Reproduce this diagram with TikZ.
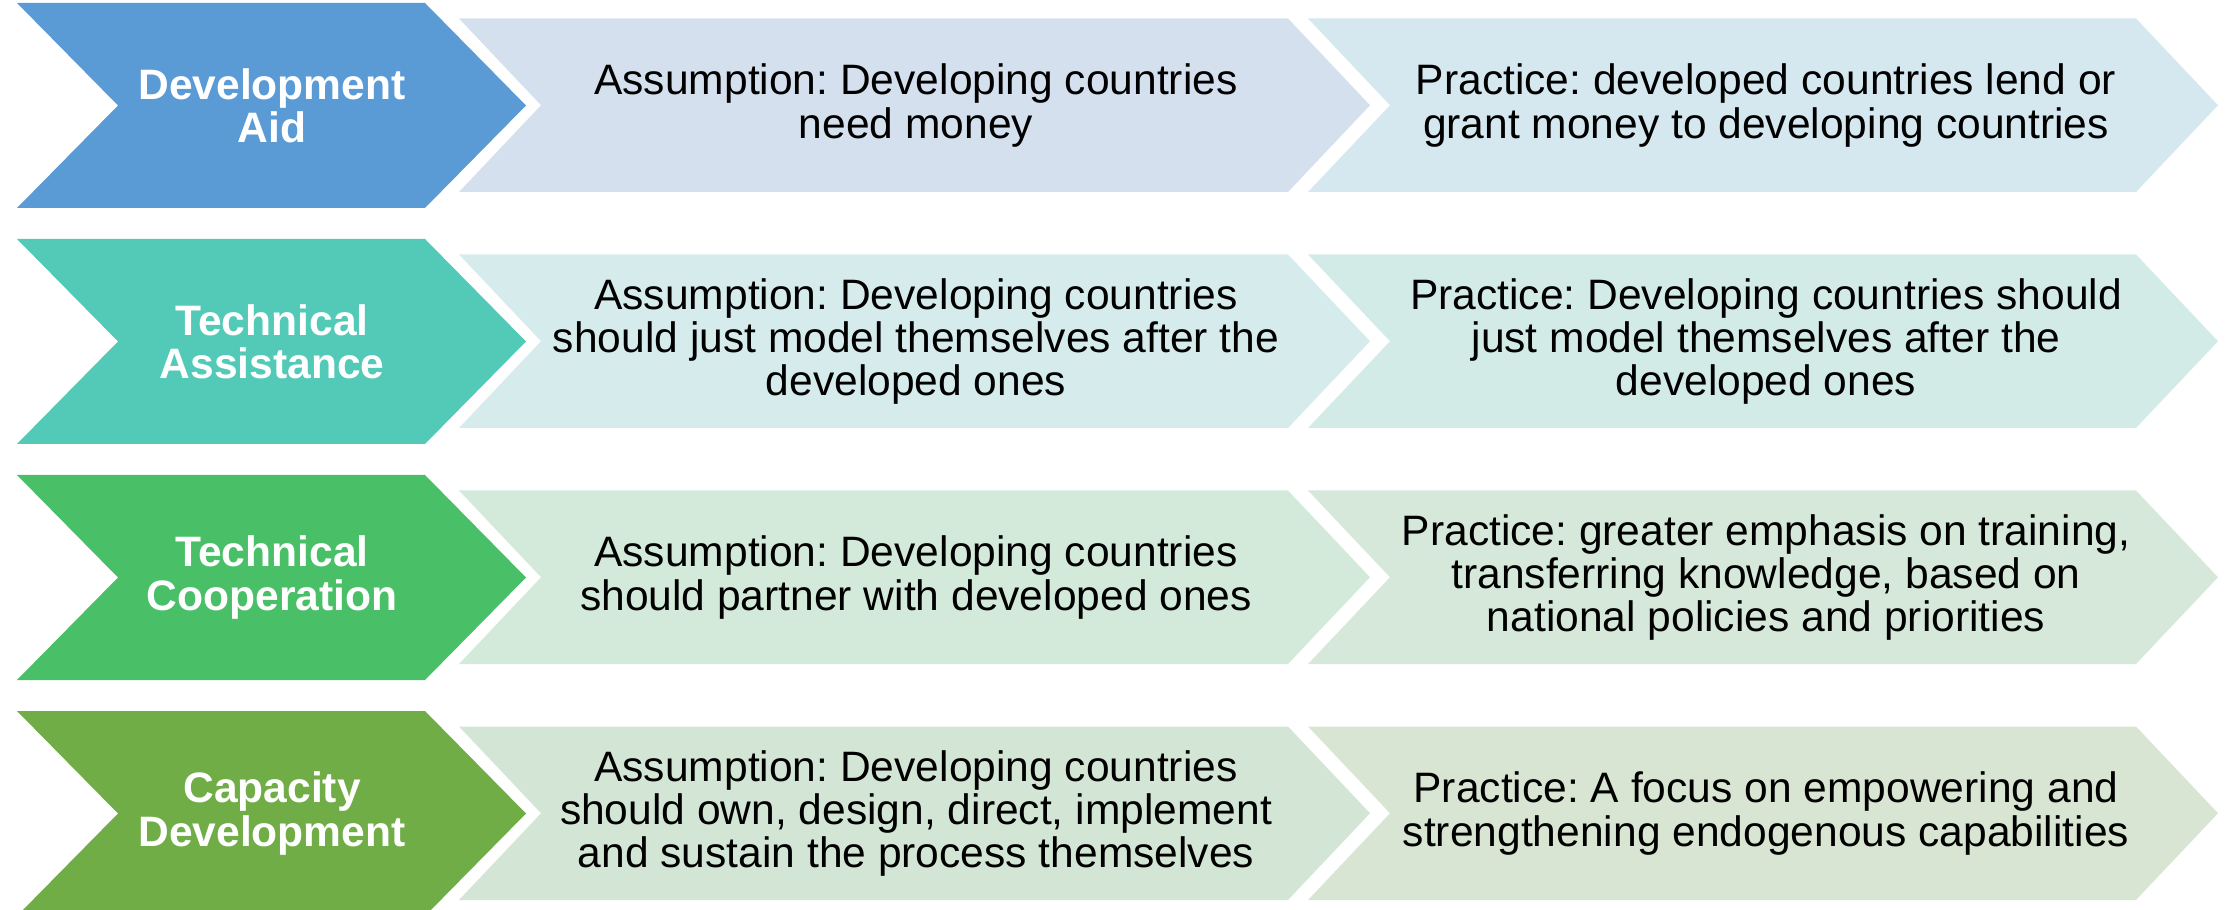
\documentclass[tikz,border=0pt]{standalone}
\usepackage{fontspec}
\setmainfont{Liberation Sans}
\usepackage{xcolor}
\frenchspacing
\definecolor{aidblue}{HTML}{5B9BD5}
\definecolor{assistteal}{HTML}{53CAB8}
\definecolor{coopgreen}{HTML}{49BF67}
\definecolor{capgreen}{HTML}{70AD47}
\definecolor{aidlightA}{HTML}{D5E0EE}
\definecolor{aidlightB}{HTML}{D5E7EF}
\definecolor{assistlightA}{HTML}{D5EBEC}
\definecolor{assistlightB}{HTML}{D3EBE6}
\definecolor{cooplightA}{HTML}{D3EADB}
\definecolor{cooplightB}{HTML}{D5E8DA}
\definecolor{caplightA}{HTML}{D3E6D5}
\definecolor{caplightB}{HTML}{D8E5D3}
% chevron outline: left x, top-right x, top y, height, tip depth
\newcommand{\chevronpath}[5]{(#1,#3) -- (#2,#3) -- ++(#5,#4/2) -- (#2,#3+#4) -- (#1,#3+#4) -- ++(#5,-#4/2) -- cycle}
\tikzset{
  head/.style={text=white,font=\fontsize{12.1}{12.3}\selectfont\bfseries,align=center,inner sep=0},
  body/.style={text=black,font=\fontsize{12.1}{12.3}\selectfont,align=center,inner sep=0}
}

\begin{document}
\begin{tikzpicture}[x=0.01cm,y=-0.01cm]
  \useasboundingbox (0,0) rectangle (2234,910);

  % --- ROW 1: DEVELOPMENT AID ---
  \fill[aidblue] \chevronpath{17}{425}{3}{205}{101};
  \fill[aidlightA] \chevronpath{459}{1288}{18.5}{173.5}{82};
  \fill[aidlightB] \chevronpath{1308}{2136}{18.5}{173.5}{82};
  \node[head] (aid) at (272,105.5) {Development\\Aid};
  \node[body] (aid-assume) at (916,105.5) {Assumption: Developing countries\\need money};
  \node[body] (aid-practice) at (1766,105.5) {Practice: developed countries lend or\\grant money to developing countries};

  % --- ROW 2: TECHNICAL ASSISTANCE ---
  \fill[assistteal] \chevronpath{17}{425}{239}{205}{101};
  \fill[assistlightA] \chevronpath{459}{1288}{254.5}{173.5}{82};
  \fill[assistlightB] \chevronpath{1308}{2136}{254.5}{173.5}{82};
  \node[head] (assist) at (272,341.5) {Technical\\Assistance};
  \node[body] (assist-assume) at (916,341.5) {Assumption: Developing countries\\should just model themselves after the\\developed ones};
  \node[body] (assist-practice) at (1766,341.5) {Practice: Developing countries should\\just model themselves after the\\developed ones};

  % --- ROW 3: TECHNICAL COOPERATION ---
  \fill[coopgreen] \chevronpath{17}{425}{475}{205}{101};
  \fill[cooplightA] \chevronpath{459}{1288}{490.5}{173.5}{82};
  \fill[cooplightB] \chevronpath{1308}{2136}{490.5}{173.5}{82};
  \node[head] (coop) at (272,577.5) {Technical\\Cooperation};
  \node[body] (coop-assume) at (916,577.5) {Assumption: Developing countries\\should partner with developed ones};
  \node[body] (coop-practice) at (1766,577.5) {Practice: greater emphasis on training,\\transferring knowledge, based on\\national policies and priorities};

  % --- ROW 4: CAPACITY DEVELOPMENT ---
  \fill[capgreen] \chevronpath{17}{425}{711}{205}{101};
  \fill[caplightA] \chevronpath{459}{1288}{726.5}{173.5}{82};
  \fill[caplightB] \chevronpath{1308}{2136}{726.5}{173.5}{82};
  \node[head] (cap) at (272,813.5) {Capacity\\Development};
  \node[body] (cap-assume) at (916,813.5) {Assumption: Developing countries\\should own, design, direct, implement\\and sustain the process themselves};
  \node[body] (cap-practice) at (1766,813.5) {Practice: A focus on empowering and\\strengthening endogenous capabilities};

\end{tikzpicture}
\end{document}
